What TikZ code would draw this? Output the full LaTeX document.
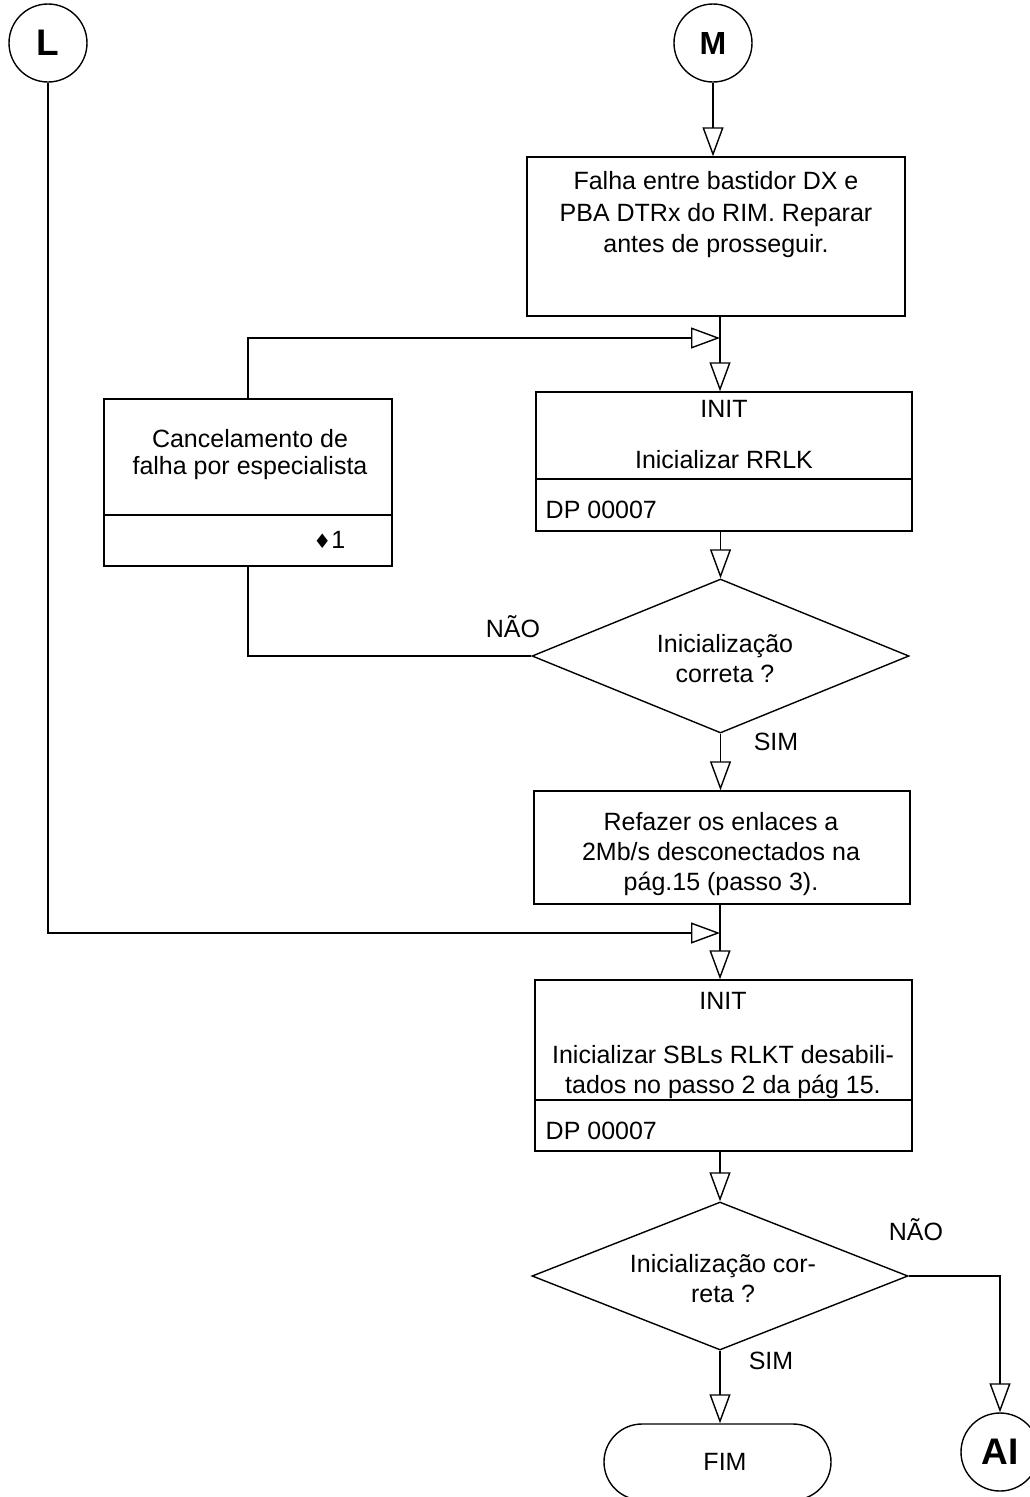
\documentclass[tikz,border=0pt]{standalone}
\usepackage{fontspec}
\setmainfont{Liberation Sans}
\newfontfamily\symfont{DejaVu Sans}
\usetikzlibrary{arrows.meta,shapes.geometric}
\tikzset{
  conn/.style={circle, draw, minimum size=78pt, inner sep=0pt, font=\fontsize{37}{37}\selectfont\bfseries},
  box/.style={draw, rectangle, inner sep=0pt},
  txt/.style={inner sep=0pt, align=center, font=\fontsize{25}{30}\selectfont},
  dec/.style={draw, diamond, inner sep=0pt},
  arr/.style={-{Triangle[open,length=29pt,width=21pt]}},
  lab/.style={inner sep=0pt, font=\fontsize{25}{30}\selectfont},
  term/.style={draw, rectangle, rounded corners=38pt, inner sep=0pt},
}
\begin{document}
\begin{tikzpicture}[x=1pt,y=-1pt,line width=1.4pt]
\useasboundingbox (0,0) rectangle (1029,1497);
% connectors (circles)
\node[conn] (L) at (48,43) {L};
\node[conn, font=\fontsize{32}{32}\selectfont\bfseries] (M) at (713,43) {M};
\node[conn] (AI) at (1000,1452) {AI};
% box 1
\node[box, minimum width=378pt, minimum height=159pt] (b1) at (716,236.5) {};
\node[txt, font=\fontsize{25}{31.5}\selectfont] (t1) at (716,215) {Falha entre bastidor DX e\\PBA DTRx do RIM. Reparar\\antes de prosseguir.};
% box 2
\node[box, minimum width=376pt, minimum height=139pt] (b2) at (724,461.5) {};
\draw (b2.west |- 0,479) -- (b2.east |- 0,479);
\node[lab] (t2a) at (724,409) {INIT};
\node[lab] (t2b) at (724,460) {Inicializar RRLK};
\node[lab, anchor=west] (t2c) at (545,510) {DP 00007};
% box 3
\node[box, minimum width=288pt, minimum height=167pt] (b3) at (248,482.5) {};
\draw (b3.west |- 0,515) -- (b3.east |- 0,515);
\node[txt, font=\fontsize{25}{27}\selectfont] (t3) at (250,455) {Cancelamento de\\falha por especialista};
\node[lab, anchor=east] (t3b) at (346,540) {{\symfont\fontsize{20}{20}\selectfont ♦}1};
% decision 1
\node[dec, minimum width=377pt, minimum height=154pt] (d1) at (720.5,656) {};
\node[txt] (td1) at (725,659) {Inicialização\\correta ?};
\node[lab, anchor=base] (n1) at (513,637) {NÃO};
\node[lab, anchor=base] (s1) at (776,750) {SIM};
% box 4
\node[box, minimum width=376pt, minimum height=113pt] (b4) at (722,847.5) {};
\node[txt] (t4) at (721,854) {Refazer os enlaces a\\2Mb/s desconectados na\\pág.15 (passo 3).};
% box 5
\node[box, minimum width=377pt, minimum height=171pt] (b5) at (723.5,1065.5) {};
\draw (b5.west |- 0,1100) -- (b5.east |- 0,1100);
\node[lab] (t5a) at (723,1001) {INIT};
\node[txt] (t5b) at (723,1072) {Inicializar SBLs RLKT desabili-\\tados no passo 2 da pág 15.};
\node[lab, anchor=west] (t5c) at (545,1131) {DP 00007};
% decision 2
\node[dec, minimum width=376pt, minimum height=148pt] (d2) at (720,1276) {};
\node[txt] (td2) at (723,1279) {Inicialização cor-\\reta ?};
\node[lab, anchor=base] (n2) at (916,1240) {NÃO};
\node[lab, anchor=base] (s2) at (771,1369) {SIM};
% terminal
\node[term, minimum width=227pt, minimum height=76pt] (fim) at (717.5,1462) {};
\node[lab] (tf) at (725,1462) {FIM};
% junctions
\coordinate (j1) at (720,338);
\coordinate (j2) at (720,933);
% connectors
\draw[arr] (M) -- (M |- b1.north);
\draw[arr] (b1.south -| j1) -- (b2.north -| j1);
\draw[arr] (b3.north) |- (j1);
\draw[arr] (b2.south -| d1.north) -- (d1.north);
\draw (d1.west) -| (b3.south);
\draw[arr] (d1.south) -- (d1.south |- b4.north);
\draw[arr] (b4.south -| j2) -- (b5.north -| j2);
\draw[arr] (L) |- (j2);
\draw[arr] (b5.south -| d2.north) -- (d2.north);
\draw[arr] (d2.south) -- (d2.south |- fim.north);
\draw[arr] (d2.east) -| (AI.north);
\end{tikzpicture}
\end{document}
